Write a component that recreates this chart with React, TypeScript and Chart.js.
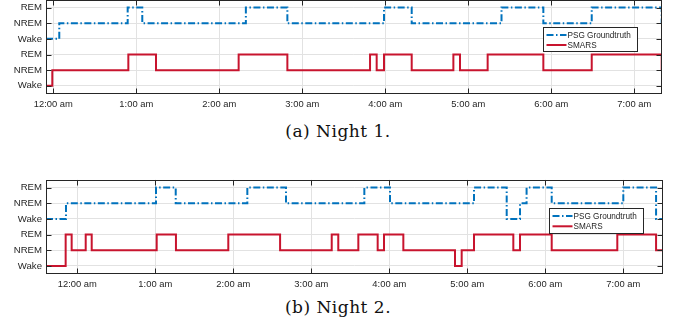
import React, { useEffect, useRef } from "react";
import { Chart, registerables } from "chart.js";

Chart.register(...registerables);

// ---------- data ----------
const hourTicks = [0, 1, 2, 3, 4, 5, 6, 7];
const hourLabels = ["12:00 am", "1:00 am", "2:00 am", "3:00 am", "4:00 am", "5:00 am", "6:00 am", "7:00 am"];
const stageTicks = [0, 1, 2, 3, 4, 5];
// rows 0..2 = SMARS (Wake, NREM, REM), rows 3..5 = PSG (Wake, NREM, REM)
const stageLabels = ["Wake", "NREM", "REM", "Wake", "NREM", "REM"];
const seriesNames = ["PSG Groundtruth", "SMARS"];

// hours after midnight
const night1Range = [-0.088, 7.33];
const night1PsgTimes = [-0.088, 0.072, 0.896, 1.072, 2.32, 2.82, 3.984, 4.318, 5.4, 5.904, 6.487, 7.33];
const night1PsgStages = [3, 4, 5, 4, 5, 4, 5, 4, 5, 4, 5, 4];
const night1SmarsTimes = [-0.088, -0.012, 0.904, 1.237, 2.233, 2.82, 3.816, 3.896, 3.984, 4.318, 4.82, 4.9, 5.233, 5.904, 6.487, 7.33];
const night1SmarsStages = [0, 1, 2, 1, 2, 1, 2, 1, 2, 1, 2, 1, 2, 1, 2, 1];

const night2Range = [-0.401, 7.505];
const night2PsgTimes = [-0.401, -0.145, 1.009, 1.262, 2.18, 2.676, 3.68, 4.009, 5.086, 5.505, 5.676, 5.76, 6.082, 7.0, 7.42, 7.505];
const night2PsgStages = [3, 4, 5, 4, 5, 4, 5, 4, 5, 3, 4, 5, 4, 5, 3, 3];
const night2SmarsTimes = [-0.401, -0.149, -0.072, 0.108, 0.185, 1.018, 1.265, 1.936, 2.6, 3.262, 3.346, 3.603, 3.851, 3.932, 4.18, 4.842, 4.928, 5.086, 5.59, 5.676, 6.082, 6.923, 7.42, 7.505];
const night2SmarsStages = [0, 2, 1, 2, 1, 2, 1, 2, 1, 2, 1, 2, 1, 2, 1, 0, 1, 2, 1, 2, 1, 2, 1, 1];

// ---------- styles ----------
const PSG_COLOR = "#0072BD";
const SMARS_COLOR = "#c8142e";
const AXIS_COLOR = "#262626";
const GRID_COLOR = "#e2e2e2";
const PSG_DASH = [7, 2.5, 1.5, 2.5];
const FONT = "'Liberation Sans', Arial, sans-serif";

const framePlugin = {
  id: "matlabFrame",
  afterDatasetsDraw(chart: any, _args: any, opts: any) {
    const { ctx, chartArea: a, scales } = chart;
    ctx.save();
    ctx.strokeStyle = AXIS_COLOR;
    ctx.lineWidth = 1;
    const L = Math.round(a.left) + 0.5;
    const R = Math.round(a.right) - 0.5;
    const T = Math.round(a.top) + 0.5;
    const B = Math.round(a.bottom) - 0.5;
    ctx.strokeRect(L, T, R - L, B - T);
    const tl = opts.tickLength;
    ctx.beginPath();
    scales.x.ticks.forEach((t: any) => {
      const px = Math.round(scales.x.getPixelForValue(t.value)) + 0.5;
      ctx.moveTo(px, B);
      ctx.lineTo(px, B - tl);
      ctx.moveTo(px, T);
      ctx.lineTo(px, T + tl);
    });
    scales.y.ticks.forEach((t: any) => {
      const py = Math.round(scales.y.getPixelForValue(t.value)) + 0.5;
      ctx.moveTo(L, py);
      ctx.lineTo(L + tl, py);
      ctx.moveTo(R, py);
      ctx.lineTo(R - tl, py);
    });
    ctx.stroke();

    // legend box
    const lg = opts.legend;
    const bx = Math.round(a.right - lg.right - lg.width) + 0.5;
    const by = Math.round(a.top + lg.top) + 0.5;
    ctx.fillStyle = "#ffffff";
    ctx.fillRect(bx, by, lg.width, lg.height);
    ctx.strokeStyle = AXIS_COLOR;
    ctx.lineWidth = 1;
    ctx.strokeRect(bx, by, lg.width, lg.height);
    chart.data.datasets.forEach((ds: any, i: number) => {
      const yy = by + lg.rowOffsets[i];
      ctx.save();
      ctx.strokeStyle = ds.borderColor;
      ctx.lineWidth = ds.borderWidth;
      ctx.setLineDash(ds.borderDash || []);
      ctx.beginPath();
      ctx.moveTo(bx + 3, yy);
      ctx.lineTo(bx + 23, yy);
      ctx.stroke();
      ctx.restore();
      ctx.fillStyle = AXIS_COLOR;
      ctx.font = `8.2px ${FONT}`;
      ctx.textBaseline = "middle";
      ctx.textAlign = "left";
      ctx.fillText(ds.label, bx + 24, yy + 0.5);
    });
    ctx.restore();
  },
};

function toPoints(times: number[], stages: number[]) {
  return times.map((t, i) => ({ x: t, y: stages[i] }));
}

type NightProps = {
  range: number[];
  psgTimes: number[];
  psgStages: number[];
  smarsTimes: number[];
  smarsStages: number[];
  top: number;
  padTop: number;
  padRight: number;
  xAxisHeight: number;
  legend: any;
};

function NightChart(p: NightProps) {
  const ref = useRef<HTMLCanvasElement | null>(null);
  useEffect(() => {
    if (!ref.current) return;
    const chart = new Chart(ref.current, {
      type: "line",
      data: {
        datasets: [
          {
            label: seriesNames[0],
            data: toPoints(p.psgTimes, p.psgStages),
            borderColor: PSG_COLOR,
            borderWidth: 2,
            borderDash: PSG_DASH,
            stepped: true,
            pointRadius: 0,
            fill: false,
          },
          {
            label: seriesNames[1],
            data: toPoints(p.smarsTimes, p.smarsStages),
            borderColor: SMARS_COLOR,
            borderWidth: 2,
            stepped: true,
            pointRadius: 0,
            fill: false,
          },
        ],
      },
      options: {
        animation: false,
        responsive: false,
        events: [],
        layout: { padding: { top: p.padTop, right: p.padRight, left: 0, bottom: 0 } },
        scales: {
          x: {
            type: "linear",
            min: p.range[0],
            max: p.range[1],
            afterBuildTicks: (s: any) => {
              s.ticks = hourTicks.map((v) => ({ value: v }));
            },
            afterFit: (s: any) => {
              s.height = p.xAxisHeight;
            },
            grid: { color: GRID_COLOR, drawTicks: false, lineWidth: 1 },
            border: { display: false },
            ticks: {
              autoSkip: false,
              maxRotation: 0,
              padding: 5,
              color: AXIS_COLOR,
              font: { family: FONT, size: 9.4 },
              callback: (_v: any, i: number) => hourLabels[i],
            },
          },
          y: {
            type: "linear",
            min: -0.5,
            max: 5.5,
            afterBuildTicks: (s: any) => {
              s.ticks = stageTicks.map((v) => ({ value: v }));
            },
            afterFit: (s: any) => {
              s.width = 46;
            },
            grid: { color: GRID_COLOR, drawTicks: false, lineWidth: 1 },
            border: { display: false },
            ticks: {
              padding: 4,
              color: AXIS_COLOR,
              font: { family: FONT, size: 9.6 },
              callback: (_v: any, i: number) => stageLabels[i],
            },
          },
        },
        plugins: {
          legend: { display: false },
          tooltip: { enabled: false },
          matlabFrame: { tickLength: 5, legend: p.legend },
        } as any,
      },
      plugins: [framePlugin],
    } as any);
    return () => chart.destroy();
  }, []);
  return (
    <canvas
      ref={ref}
      width={675}
      height={125}
      style={{ position: "absolute", left: 0, top: p.top, width: 675, height: 125 }}
    />
  );
}

const captionStyle: React.CSSProperties = {
  position: "absolute",
  left: 0,
  width: 676,
  textAlign: "center",
  fontFamily: "'DejaVu Serif', serif",
  fontSize: 17,
  letterSpacing: 0.5,
  color: "#111",
  lineHeight: "20px",
  whiteSpace: "nowrap",
};

export default function App() {
  return (
    <div style={{ position: "fixed", left: 0, top: 0, width: 675, height: 328, overflow: "hidden", background: "#fff" }}>
      <NightChart
        range={night1Range}
        psgTimes={night1PsgTimes}
        psgStages={night1PsgStages}
        smarsTimes={night1SmarsTimes}
        smarsStages={night1SmarsStages}
        top={-10}
        padTop={8}
        padRight={13.3}
        xAxisHeight={21.4}
        legend={{ right: 25, top: 27.7, width: 94, height: 24, rowOffsets: [7.5, 17.5] }}
      />
      <div style={{ ...captionStyle, top: 121 }}>(a) Night 1.</div>
      <NightChart
        range={night2Range}
        psgTimes={night2PsgTimes}
        psgStages={night2PsgStages}
        smarsTimes={night2SmarsTimes}
        smarsStages={night2SmarsStages}
        top={170}
        padTop={8.3}
        padRight={12.3}
        xAxisHeight={21.2}
        legend={{ right: 20, top: 28.4, width: 94, height: 25, rowOffsets: [7.5, 17.8] }}
      />
      <div style={{ ...captionStyle, top: 297 }}>(b) Night 2.</div>
    </div>
  );
}
